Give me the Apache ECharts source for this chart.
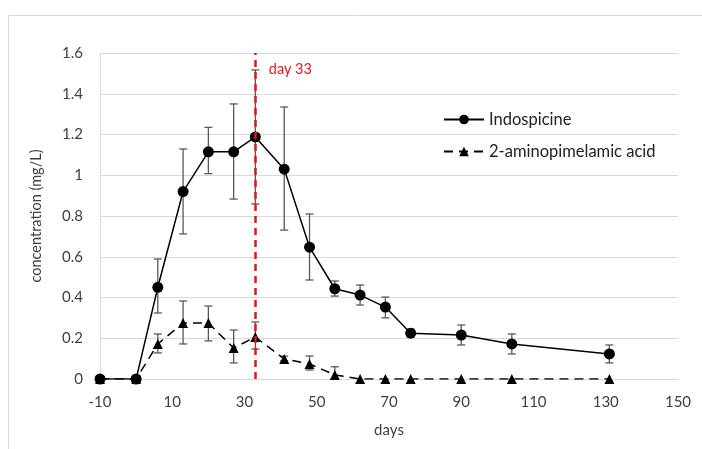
<!DOCTYPE html>
<html>
<head>
<meta charset="utf-8">
<script src="https://cdn.jsdelivr.net/npm/echarts@6/dist/echarts.min.js"></script>
<style>
  html, body { margin: 0; padding: 0; background: #fff; }
  #chart { width: 702px; height: 449px; }
</style>
</head>
<body>
<div id="chart"></div>
<script>
// sampling days
const days = [-10, 0, 6, 13, 20, 27, 33, 41, 48, 55, 62, 69, 76, 90, 104, 131]

// Indospicine mean and error range (mg/L)
const indoMean = [0, 0, 0.45, 0.92, 1.115, 1.115, 1.188, 1.03, 0.647, 0.443, 0.412, 0.353, 0.225, 0.216, 0.172, 0.123]
const indoLow  = [null, null, 0.324, 0.712, 1.008, 0.883, 0.859, 0.731, 0.486, 0.407, 0.363, 0.30, 0.205, 0.167, 0.123, 0.079]
const indoHigh = [null, null, 0.589, 1.129, 1.235, 1.35, 1.517, 1.335, 0.81, 0.481, 0.461, 0.402, 0.245, 0.265, 0.221, 0.167]

// 2-aminopimelamic acid mean and error range (mg/L)
const acidMean = [0, 0, 0.172, 0.275, 0.275, 0.152, 0.206, 0.098, 0.074, 0.02, 0, 0, 0, 0, 0, 0]
const acidLow  = [null, null, 0.128, 0.172, 0.187, 0.079, 0.147, 0.09, 0.044, 0, null, null, null, null, null, null]
const acidHigh = [null, null, 0.221, 0.383, 0.358, 0.24, 0.28, 0.112, 0.113, 0.06, null, null, null, null, null, null]

const markerDay = 33
const xTicks = { min: -10, max: 150, interval: 20 }
const yTicks = { min: 0, max: 1.6, interval: 0.2 }

const font = 'Lato, "Open Sans", sans-serif'
const textColor = '#404040'

function pairs(xs, ys) {
  return xs.map((x, i) => [x, ys[i]])
}

function errData(xs, lo, hi) {
  return xs.map((x, i) => [x, lo[i], hi[i]]).filter(d => d[1] != null)
}

function renderErr(params, api) {
  const x = api.value(0)
  const top = api.coord([x, api.value(2)])
  const bot = api.coord([x, api.value(1)])
  const w = 4
  const style = { stroke: '#595959', lineWidth: 1.3 }
  return {
    type: 'group',
    children: [
      { type: 'line', shape: { x1: top[0], y1: top[1], x2: bot[0], y2: bot[1] }, style },
      { type: 'line', shape: { x1: top[0] - w, y1: top[1], x2: top[0] + w, y2: top[1] }, style },
      { type: 'line', shape: { x1: bot[0] - w, y1: bot[1], x2: bot[0] + w, y2: bot[1] }, style }
    ]
  }
}

const chart = echarts.init(document.getElementById('chart'))

chart.setOption({
  animation: false,
  textStyle: { fontFamily: font },
  graphic: [{
    type: 'rect',
    left: 6, top: 13,
    shape: { width: 720, height: 460 },
    style: { fill: 'none', stroke: '#d9d9d9', lineWidth: 1 },
    silent: true
  }],
  grid: { left: 100, right: 24, top: 53, bottom: 70 },
  legend: {
    orient: 'vertical',
    left: 438,
    top: 106,
    itemGap: 15,
    itemWidth: 40,
    itemHeight: 12,
    textStyle: { fontSize: 16.5, color: '#222', fontFamily: font },
    data: ['Indospicine', '2-aminopimelamic acid']
  },
  xAxis: {
    type: 'value',
    min: xTicks.min, max: xTicks.max, interval: xTicks.interval,
    name: 'days',
    nameLocation: 'middle',
    nameGap: 44,
    nameTextStyle: { fontSize: 15, color: textColor },
    axisLine: { lineStyle: { color: '#d9d9d9' } },
    axisTick: { show: false },
    axisLabel: { fontSize: 15, color: textColor, margin: 16 },
    splitLine: { show: false }
  },
  yAxis: {
    type: 'value',
    min: yTicks.min, max: yTicks.max, interval: yTicks.interval,
    name: 'concentration (mg/L)',
    nameLocation: 'middle',
    nameGap: 56,
    nameTextStyle: { fontSize: 14.5, color: textColor },
    axisLine: { show: true, onZero: false, lineStyle: { color: '#d9d9d9' } },
    axisTick: { show: false },
    axisLabel: { fontSize: 15, color: textColor, margin: 17 },
    splitLine: { lineStyle: { color: '#d9d9d9', width: 1 } }
  },
  series: [
    {
      name: 'indoErr',
      type: 'custom',
      renderItem: renderErr,
      data: errData(days, indoLow, indoHigh),
      z: 1
    },
    {
      name: 'acidErr',
      type: 'custom',
      renderItem: renderErr,
      data: errData(days, acidLow, acidHigh),
      z: 1
    },
    {
      name: '2-aminopimelamic acid',
      type: 'line',
      data: pairs(days, acidMean),
      symbol: 'triangle',
      symbolSize: 10,
      itemStyle: { color: '#000' },
      lineStyle: { color: '#000', width: 1.5, type: [9, 6] },
      z: 3
    },
    {
      name: 'Indospicine',
      type: 'line',
      data: pairs(days, indoMean),
      symbol: 'circle',
      symbolSize: 11,
      itemStyle: { color: '#000' },
      lineStyle: { color: '#000', width: 1.5 },
      z: 4,
      markLine: {
        silent: true,
        symbol: 'none',
        lineStyle: { color: '#e8141c', width: 2.5, type: [7, 5] },
        label: {
          show: true,
          position: 'end',
          formatter: 'day ' + markerDay,
          color: '#e8141c',
          fontSize: 14.5,
          fontFamily: font,
          offset: [35, 29]
        },
        data: [{ xAxis: markerDay }]
      }
    }
  ]
})
</script>
</body>
</html>
